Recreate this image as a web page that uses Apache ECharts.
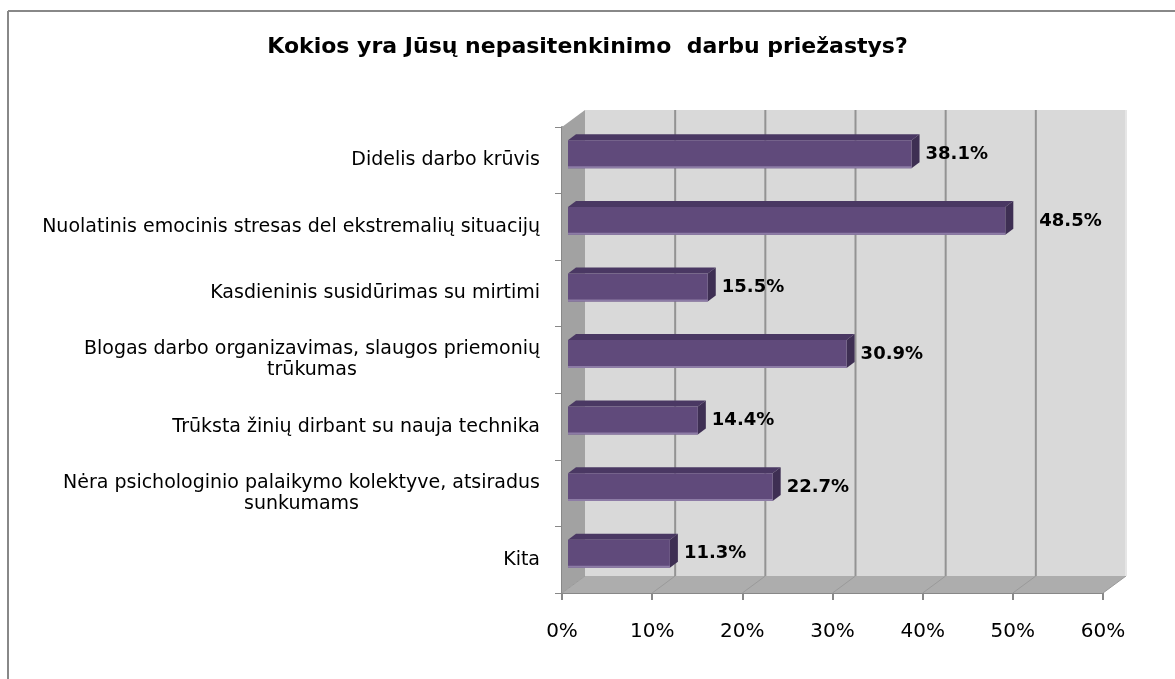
<!DOCTYPE html>
<html>
<head>
<meta charset="utf-8">
<title>Kokios yra Jūsų nepasitenkinimo darbu priežastys?</title>
<script src="https://cdn.jsdelivr.net/npm/echarts@6/dist/echarts.min.js"></script>
<style>
  html, body { margin: 0; padding: 0; background: #ffffff; }
  #chart { width: 1175px; height: 679px; }
</style>
</head>
<body>
<div id="chart"></div>
<script>
// Survey answers: reasons for job dissatisfaction (share of respondents, %)
const titleText = 'Kokios yra Jūsų nepasitenkinimo  darbu priežastys?';
const categories = [
  'Didelis darbo krūvis',
  'Nuolatinis emocinis stresas del ekstremalių situacijų',
  'Kasdieninis susidūrimas su mirtimi',
  'Blogas darbo organizavimas, slaugos priemonių\ntrūkumas',
  'Trūksta žinių dirbant su nauja technika',
  'Nėra psichologinio palaikymo kolektyve, atsiradus\nsunkumams',
  'Kita'
];
const values = [38.1, 48.5, 15.5, 30.9, 14.4, 22.7, 11.3];
const xTicks = [0, 10, 20, 30, 40, 50, 60];

const FONT = 'DejaVu Sans';

// pseudo-3D geometry: depth of the chart box and of each bar
const DEPTH = { dx: 23, dy: -17 };
const BAR = { offX: 6, offY: -6, thick: 0.42, dx: 8, dy: -6 };
const COLORS = {
  wall: '#d9d9d9', side: '#a2a2a2', floor: '#adadad', grid: '#939393',
  front: '#604a7b', top: '#4a3863', end: '#3e2f53', edge: '#8d7ca6'
};
// the second label sits a little further out from its bar
const labelNudge = { 1: 20 };

const chart = echarts.init(document.getElementById('chart'), null, { renderer: 'canvas' });

function renderWalls(params, api) {
  const cs = params.coordSys;
  const x0 = cs.x, x1 = cs.x + cs.width, y0 = cs.y, y1 = cs.y + cs.height;
  const { dx, dy } = DEPTH;
  const children = [];
  // back wall
  children.push({ type: 'rect', shape: { x: x0 + dx, y: y0 + dy, width: x1 - x0, height: y1 - y0 },
    style: { fill: COLORS.wall } });
  // left side wall
  children.push({ type: 'polygon', shape: { points: [[x0, y0], [x0 + dx, y0 + dy], [x0 + dx, y1 + dy], [x0, y1]] },
    style: { fill: COLORS.side } });
  // floor
  children.push({ type: 'polygon', shape: { points: [[x0, y1], [x0 + dx, y1 + dy], [x1 + dx, y1 + dy], [x1, y1]] },
    style: { fill: COLORS.floor } });
  // gridlines on the back wall, continuing across the floor
  xTicks.forEach(function (t) {
    const px = api.coord([t, 0])[0];
    if (t > xTicks[0]) {
      children.push({ type: 'line', shape: { x1: px + dx, y1: y0 + dy, x2: px + dx, y2: y1 + dy },
        style: { stroke: COLORS.grid, lineWidth: 2 } });
    }
    children.push({ type: 'line', shape: { x1: px + dx, y1: y1 + dy, x2: px, y2: y1 },
      style: { stroke: '#9a9a9a', lineWidth: 1 } });
  });
  // light edge on the right of the back wall
  children.push({ type: 'line', shape: { x1: x1 + dx, y1: y0 + dy, x2: x1 + dx, y2: y1 + dy },
    style: { stroke: '#e6e6e6', lineWidth: 2 } });
  return { type: 'group', children: children };
}

function renderBar(params, api) {
  const v = api.value(0), idx = api.value(1);
  const pStart = api.coord([0, idx]);
  const pEnd = api.coord([v, idx]);
  const band = api.size([0, 1])[1];
  const h = band * BAR.thick;
  const xL = pStart[0] + BAR.offX, xR = pEnd[0] + BAR.offX;
  const yc = pStart[1] + BAR.offY;
  const yT = yc - h / 2, yB = yc + h / 2;
  const ddx = BAR.dx, ddy = BAR.dy;
  const nudge = labelNudge[idx] || 0;
  return {
    type: 'group',
    children: [
      { type: 'polygon', shape: { points: [[xL, yT], [xL + ddx, yT + ddy], [xR + ddx, yT + ddy], [xR, yT]] },
        style: { fill: COLORS.top } },
      { type: 'polygon', shape: { points: [[xR, yT], [xR + ddx, yT + ddy], [xR + ddx, yB + ddy], [xR, yB]] },
        style: { fill: COLORS.end } },
      { type: 'rect', shape: { x: xL, y: yT, width: xR - xL, height: h },
        style: { fill: COLORS.front } },
      { type: 'line', shape: { x1: xL, y1: yB - 1, x2: xR, y2: yB - 1 },
        style: { stroke: COLORS.edge, lineWidth: 2 } },
      { type: 'text', x: xR + ddx + 6 + nudge, y: yc,
        style: { text: v.toFixed(1) + '%', fill: '#000', font: 'bold 18px "' + FONT + '"',
          textAlign: 'left', textVerticalAlign: 'middle' } }
    ]
  };
}

const option = {
  animation: false,
  backgroundColor: '#ffffff',
  title: {
    text: titleText,
    left: 'center',
    top: 36,
    padding: 0,
    textStyle: { fontFamily: FONT, fontWeight: 'bold', fontSize: 22, color: '#000' }
  },
  graphic: [
    { type: 'line', shape: { x1: 8, y1: 11, x2: 1175, y2: 11 }, style: { stroke: '#888', lineWidth: 2 } },
    { type: 'line', shape: { x1: 8, y1: 11, x2: 8, y2: 679 }, style: { stroke: '#888', lineWidth: 2 } }
  ],
  grid: { left: 562, right: 72, top: 127, bottom: 86, containLabel: false },
  xAxis: {
    type: 'value',
    min: xTicks[0],
    max: xTicks[xTicks.length - 1],
    interval: xTicks[1] - xTicks[0],
    axisLine: { show: true, lineStyle: { color: '#888', width: 2 } },
    axisTick: { show: true, length: 7, lineStyle: { color: '#888', width: 2 } },
    splitLine: { show: false },
    axisLabel: {
      formatter: '{value}%', margin: 29, color: '#000',
      fontFamily: FONT, fontSize: 20
    }
  },
  yAxis: {
    type: 'category',
    inverse: true,
    data: categories,
    axisLine: { show: true, lineStyle: { color: '#888', width: 2 } },
    axisTick: { show: true, length: 7, lineStyle: { color: '#888', width: 1 } },
    splitLine: { show: false },
    axisLabel: {
      margin: 22,
      align: 'right',
      color: '#000',
      fontFamily: FONT,
      fontSize: 19,
      lineHeight: 21,
      formatter: function (val) {
        return val.split('\n').map(function (line) { return '{c|' + line + '}'; }).join('\n');
      },
      rich: {
        c: { align: 'center', fontFamily: FONT, fontSize: 19, lineHeight: 21, color: '#000' }
      }
    }
  },
  series: [
    {
      type: 'custom',
      name: 'walls',
      coordinateSystem: 'cartesian2d',
      silent: true,
      z: 1,
      data: [[0, 0]],
      renderItem: renderWalls
    },
    {
      type: 'custom',
      name: 'share',
      coordinateSystem: 'cartesian2d',
      z: 3,
      encode: { x: 0, y: 1 },
      data: values.map(function (v, i) { return [v, i]; }),
      renderItem: renderBar
    }
  ]
};

chart.setOption(option);
</script>
</body>
</html>
